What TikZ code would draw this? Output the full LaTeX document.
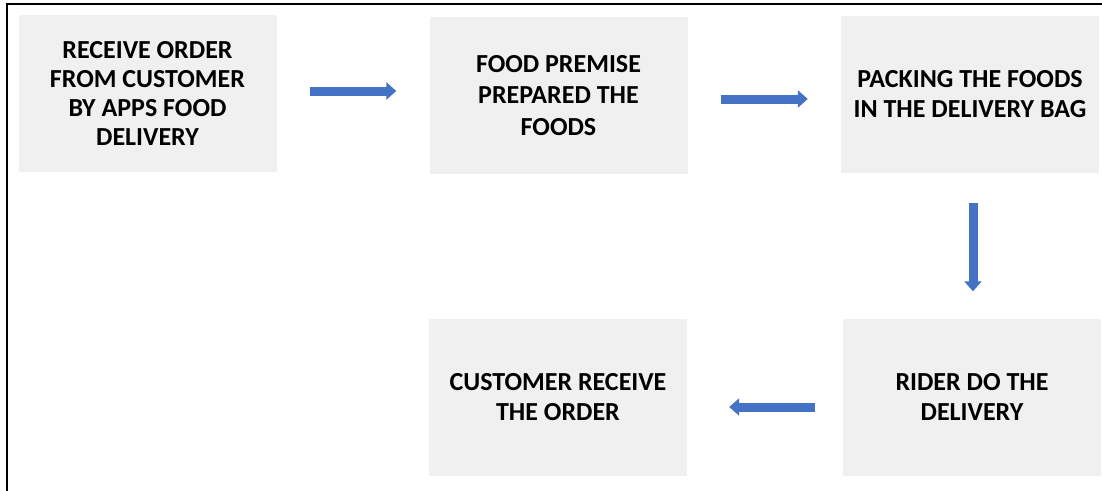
\documentclass[tikz,border=0pt]{standalone}
\usepackage{fontspec}
\setmainfont{Carlito}
\usetikzlibrary{arrows.meta}
\definecolor{flowblue}{RGB}{68,114,196}
\definecolor{stepfill}{RGB}{240,240,240}
\begin{document}
\begin{tikzpicture}[x=1pt,y=-1pt,
  stepbox/.style={fill=stepfill, minimum width=258pt, minimum height=157pt,
    inner sep=0pt, align=center, font=\bfseries\fontsize{26}{30}\selectfont},
  flow/.style={draw=flowblue, line width=9pt,
    -{Triangle[width=17pt,length=10pt]}}]
  \useasboundingbox (0,0) rectangle (1102,490);
  \clip (0,0) rectangle (1102,490);
  % frame around the chart
  \draw[line width=2pt] (6.5,3.5) rectangle (1120,510);
  % process steps
  \node[stepbox, font=\bfseries\fontsize{26}{29.3}\selectfont] (order) at (147.5,93.5)
    {RECEIVE ORDER\\FROM CUSTOMER\\BY APPS FOOD\\DELIVERY};
  \node[stepbox, font=\bfseries\fontsize{26}{31.5}\selectfont] (prepare) at (558.5,95.5)
    {FOOD PREMISE\\PREPARED THE\\FOODS};
  \node[stepbox] (pack)    at (970,94.5)   {PACKING THE FOODS\\IN THE DELIVERY BAG};
  \node[stepbox] (ride)    at (972,397)    {RIDER DO THE\\DELIVERY};
  \node[stepbox] (receive) at (558,397)    {CUSTOMER RECEIVE\\THE ORDER};
  % flow arrows (kept straight by projecting onto the next box's side)
  \draw[flow, shorten <=33pt, shorten >=33pt]
    ([yshift=2.5pt]order.east) -- ([yshift=2.5pt]order.east -| prepare.west);
  \draw[flow, shorten <=33pt, shorten >=33pt]
    ([yshift=-3.5pt]prepare.east) -- ([yshift=-3.5pt]prepare.east -| pack.west);
  \draw[flow, shorten <=30pt, shorten >=27pt]
    ([xshift=3pt]pack.south) -- ([xshift=3pt]pack.south |- ride.north);
  \draw[flow, shorten <=28pt, shorten >=42pt]
    ([yshift=-10pt]ride.west) -- ([yshift=-10pt]ride.west -| receive.east);
\end{tikzpicture}
\end{document}
